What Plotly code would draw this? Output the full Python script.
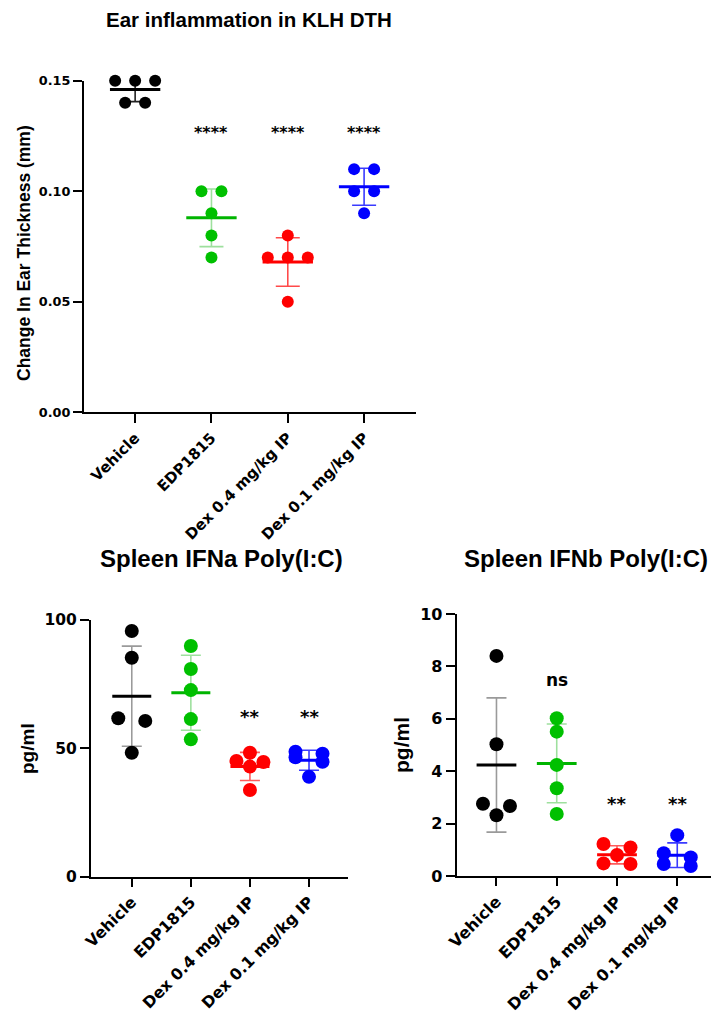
import numpy as np
import plotly.graph_objects as go

# ---------------- data ----------------
categories = ["Vehicle", "EDP1815", "Dex 0.4 mg/kg IP", "Dex 0.1 mg/kg IP"]

ear_vehicle = [0.15, 0.15, 0.15, 0.14, 0.14]
ear_edp = [0.10, 0.10, 0.09, 0.08, 0.07]
ear_dex04 = [0.08, 0.07, 0.07, 0.07, 0.05]
ear_dex01 = [0.11, 0.11, 0.10, 0.10, 0.09]

ifna_vehicle = [95.7, 85.3, 61.7, 60.7, 48.3]
ifna_edp = [89.9, 80.9, 72.7, 61.4, 53.5]
ifna_dex04 = [48.3, 45.1, 44.7, 42.9, 33.8]
ifna_dex01 = [48.7, 47.9, 46.5, 44.8, 38.9]

ifnb_vehicle = [8.40, 5.03, 2.76, 2.67, 2.32]
ifnb_edp = [6.02, 5.51, 4.24, 3.35, 2.37]
ifnb_dex04 = [1.22, 1.09, 0.80, 0.48, 0.46]
ifnb_dex01 = [1.56, 0.87, 0.71, 0.46, 0.38]

ear_sig = ["", "****", "****", "****"]
ifna_sig = ["", "ns", "**", "**"]
ifnb_sig = ["", "ns", "**", "**"]

ear_ticks = [0, 0.05, 0.10, 0.15]
ear_ticktext = ["0.00", "0.05", "0.10", "0.15"]
ifna_ticks = [0, 50, 100]
ifnb_ticks = [0, 2, 4, 6, 8, 10]

# ---------------- styles ----------------
W, H = 713, 1013
FONT = "Liberation Sans, Arial, sans-serif"
TFONT = "DejaVu Sans, Liberation Sans, sans-serif"
point_colors = ["#000000", "#00c000", "#ff0000", "#0000ff"]
mean_colors = ["#000000", "#00b400", "#ff0000", "#0000ff"]
err_colors_top = ["#222222", "#9ee09e", "#ff4a4a", "#3a3aff"]
err_colors_bot = ["#9a9a9a", "#9ee09e", "#ff5a5a", "#3a3aff"]


def px_x(a, b):
    return [a / W, b / W]


def px_y(top, bottom):
    return [1 - bottom / H, 1 - top / H]


panels = [
    dict(groups=[ear_vehicle, ear_edp, ear_dex04, ear_dex01], sig=ear_sig,
         xd=px_x(84, 416), yd=px_y(80.7, 412.3), xr=[-0.67, 3.68], yr=[0, 0.15],
         yt=ear_ticks, ytt=ear_ticktext, msize=12, step=20, cap=12,
         errc=err_colors_top, tickfs=12.8, xtickfs=15, xticklen=9, sigfs=16, nsfs=16,
         sig_y={"****": 0.1265}),
    dict(groups=[ifna_vehicle, ifna_edp, ifna_dex04, ifna_dex01], sig=ifna_sig,
         xd=px_x(91, 348), yd=px_y(620, 876.7), xr=[-0.69, 3.66], yr=[0, 100],
         yt=ifna_ticks, ytt=[str(v) for v in ifna_ticks], msize=14, step=27, cap=10,
         errc=err_colors_bot, tickfs=15.5, xtickfs=15.7, xticklen=8, sigfs=18, nsfs=16.6,
         sig_y={"ns": 102.0, "**": 62.5}),
    dict(groups=[ifnb_vehicle, ifnb_edp, ifnb_dex04, ifnb_dex01], sig=ifnb_sig,
         xd=px_x(456.7, 711), yd=px_y(614, 876), xr=[-0.66, 3.56], yr=[0, 10],
         yt=ifnb_ticks, ytt=[str(v) for v in ifnb_ticks], msize=14, step=27, cap=10,
         errc=err_colors_bot, tickfs=16, xtickfs=16, xticklen=8, sigfs=18, nsfs=17,
         sig_y={"ns": 7.48, "**": 2.75}),
]


def swarm_offsets(values, px_per_unit, px_per_cat, step_px, row_tol_px=5.0):
    order = sorted(range(len(values)), key=lambda i: -values[i])
    rows, cur = [], []
    for i in order:
        if cur and (values[cur[0]] - values[i]) * px_per_unit > row_tol_px:
            rows.append(cur)
            cur = []
        cur.append(i)
    if cur:
        rows.append(cur)
    offs = [0.0] * len(values)
    for row in rows:
        n = len(row)
        for k, i in enumerate(row):
            offs[i] = (k - (n - 1) / 2) * step_px / px_per_cat
    return offs


fig = go.Figure()
annotations = []
layout_axes = {}

for p_i, p in enumerate(panels):
    n = p_i + 1
    xa = "x" if n == 1 else f"x{n}"
    ya = "y" if n == 1 else f"y{n}"
    px_per_unit = (p["yd"][1] - p["yd"][0]) * H / (p["yr"][1] - p["yr"][0])
    px_per_cat = (p["xd"][1] - p["xd"][0]) * W / (p["xr"][1] - p["xr"][0])
    for g, vals in enumerate(p["groups"]):
        arr = np.array(vals, dtype=float)
        mean = arr.mean()
        sd = arr.std(ddof=1)
        # error bar
        fig.add_trace(go.Scatter(
            x=[g], y=[mean], mode="markers", xaxis=xa, yaxis=ya,
            marker=dict(size=1, color="rgba(0,0,0,0)"),
            error_y=dict(type="data", array=[sd], visible=True, color=p["errc"][g],
                         thickness=1.6, width=p["cap"]),
            showlegend=False, hoverinfo="skip"))
        # mean line
        hw = 0.33
        fig.add_trace(go.Scatter(
            x=[g - hw, g + hw], y=[mean, mean], mode="lines", xaxis=xa, yaxis=ya,
            line=dict(color=mean_colors[g], width=3), showlegend=False, hoverinfo="skip"))
        # points
        offs = swarm_offsets(vals, px_per_unit, px_per_cat, p["step"])
        fig.add_trace(go.Scatter(
            x=[g + o for o in offs], y=vals, mode="markers", xaxis=xa, yaxis=ya,
            marker=dict(size=p["msize"], color=point_colors[g], line=dict(width=0)),
            cliponaxis=False, showlegend=False))
        # significance
        s = p["sig"][g]
        if s:
            annotations.append(dict(
                x=g, y=p["sig_y"][s], xref=xa, yref=ya, text=s, showarrow=False,
                xanchor="center", yanchor="middle",
                font=dict(family=TFONT, size=p["nsfs"] if s == "ns" else p["sigfs"],
                          color="black", weight="bold")))
    axis_common = dict(showline=True, linewidth=2, linecolor="black", ticks="outside",
                       tickwidth=2, tickcolor="black", showgrid=False,
                       zeroline=False, fixedrange=True, automargin=False)
    layout_axes["xaxis" if n == 1 else f"xaxis{n}"] = dict(
        domain=p["xd"], range=p["xr"], tickmode="array", tickvals=list(range(4)),
        ticktext=categories, tickangle=-45, anchor=ya, ticklen=p["xticklen"],
        tickfont=dict(family=TFONT, size=p["xtickfs"], color="black", weight="bold"),
        **axis_common)
    layout_axes["yaxis" if n == 1 else f"yaxis{n}"] = dict(
        domain=p["yd"], range=p["yr"], tickmode="array", tickvals=p["yt"],
        ticktext=p["ytt"], anchor=xa, ticklen=9,
        tickfont=dict(family=TFONT, size=p["tickfs"], color="black", weight="bold"),
        **axis_common)

# titles
def paper_ann(text, x, y, size, angle=0):
    return dict(text=text, x=x / W, y=1 - y / H, xref="paper", yref="paper",
                showarrow=False, xanchor="center", yanchor="middle", textangle=angle,
                font=dict(family=FONT, size=size, color="black", weight="bold"))

annotations += [
    paper_ann("Ear inflammation in KLH DTH", 249, 19, 20.5),
    paper_ann("Change In Ear Thickness (mm)", 24, 253, 17.5, -90),
    paper_ann("Spleen IFNa Poly(I:C)", 221, 558, 24),
    paper_ann("pg/ml", 27, 749, 19, -90),
    paper_ann("Spleen IFNb Poly(I:C)", 586, 558, 24),
    paper_ann("pg/ml", 401, 745, 21, -90),
]

fig.update_layout(
    width=W, height=H, autosize=False,
    margin=dict(l=0, r=0, t=0, b=0, pad=0),
    paper_bgcolor="white", plot_bgcolor="white",
    font=dict(family=FONT, color="black"),
    annotations=annotations,
    showlegend=False,
    **layout_axes,
)

fig.write_html("out.html",
               config={"displayModeBar": False, "staticPlot": True},
               post_script="document.body.style.margin='0';document.body.style.overflow='hidden';")
